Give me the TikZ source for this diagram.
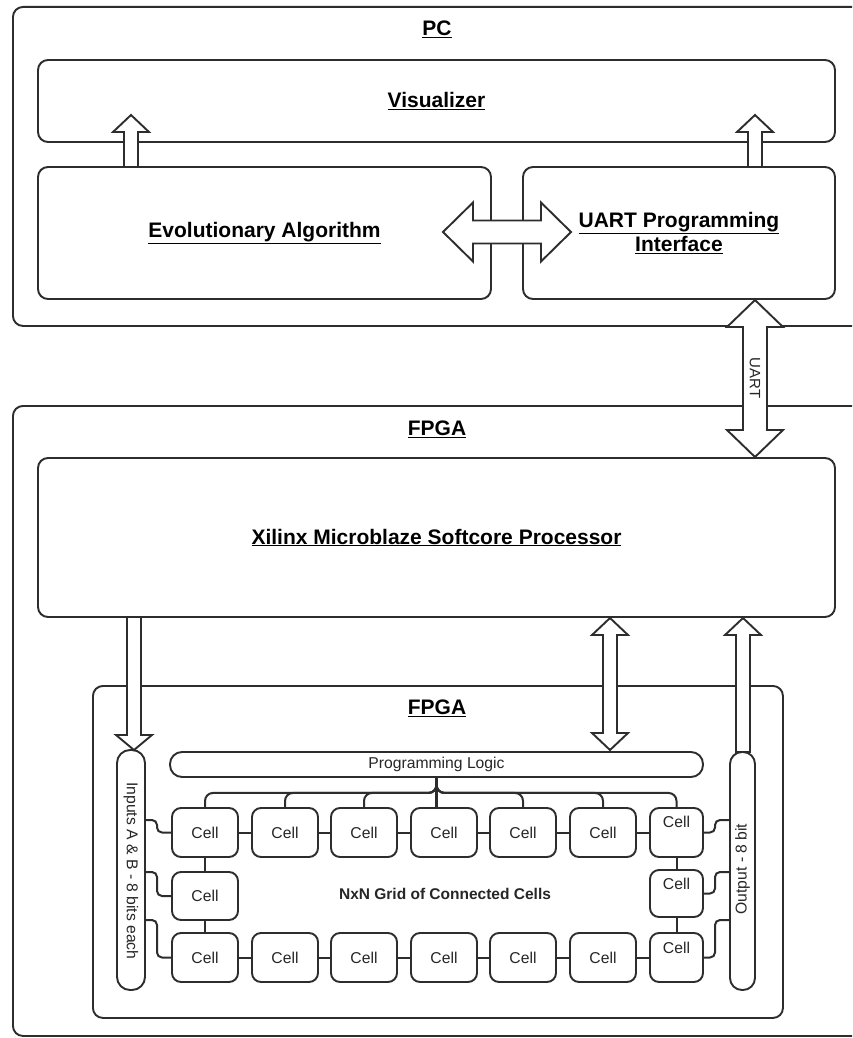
\documentclass[tikz,border=0pt]{standalone}
\usepackage{fontspec}
\setmainfont{Liberation Sans}
\definecolor{lc}{RGB}{45,45,45}
\newcommand\blkup[6]{\draw[blk] (#1-#4,#3) -- (#1-#4,#2+#6) -- (#1-#5,#2+#6) -- (#1,#2) -- (#1+#5,#2+#6) -- (#1+#4,#2+#6) -- (#1+#4,#3) -- cycle;}
\newcommand\blkdown[6]{\draw[blk] (#1-#4,#3) -- (#1-#4,#2-#6) -- (#1-#5,#2-#6) -- (#1,#2) -- (#1+#5,#2-#6) -- (#1+#4,#2-#6) -- (#1+#4,#3) -- cycle;}
\newcommand\blkvv[6]{\draw[blk] (#1,#2) -- (#1+#5,#2+#6) -- (#1+#4,#2+#6) -- (#1+#4,#3-#6) -- (#1+#5,#3-#6) -- (#1,#3) -- (#1-#5,#3-#6) -- (#1-#4,#3-#6) -- (#1-#4,#2+#6) -- (#1-#5,#2+#6) -- cycle;}
\newcommand\blkhh[6]{\draw[blk] (#1,#3) -- (#1+#6,#3-#5) -- (#1+#6,#3-#4) -- (#2-#6,#3-#4) -- (#2-#6,#3-#5) -- (#2,#3) -- (#2-#6,#3+#5) -- (#2-#6,#3+#4) -- (#1+#6,#3+#4) -- (#1+#6,#3+#5) -- cycle;}
\begin{document}
\begin{tikzpicture}[x=1pt,y=-1pt,
  box/.style={draw=lc, line width=1.9pt, rounded corners=10pt, fill=white, inner sep=0pt, text=black,
     font=\fontsize{21}{25}\selectfont\bfseries, align=center},
  big/.style={inner sep=0pt, text=black, font=\fontsize{21}{25}\selectfont\bfseries},
  small/.style={inner sep=0pt, text=black!85, font=\fontsize{15.7}{18}\selectfont},
  pill/.style={draw=lc, line width=1.9pt, fill=white, inner sep=0pt, text=black!85, font=\fontsize{15.7}{18}\selectfont},
  cell/.style={draw=lc, line width=1.9pt, rounded corners=9pt, fill=white, inner sep=0pt,
     minimum width=66pt, minimum height=49pt, text=black!85, font=\fontsize{15.7}{18}\selectfont},
  cellr/.style={cell, minimum width=53pt},
  blk/.style={draw=lc, fill=white, line width=1.9pt, line join=miter},
  wire/.style={draw=lc, line width=2pt, rounded corners=6pt}
]
\useasboundingbox (0,0) rectangle (852,1038);
\clip (0,0) rectangle (852,1038);

% ---------- PC ----------
\node[box, anchor=north west, minimum width=860pt, minimum height=319pt] (pc) at (12,6) {};
\node[big] (pclbl) at (437,29) {\underline{PC}};
\node[box, minimum width=797pt, minimum height=82pt] (vis) at (436.5,101) {\underline{Visualizer}};
\node[box, minimum width=453pt, minimum height=132pt] (ea) at (264.5,233) {\underline{Evolutionary Algorithm}};
\node[box, minimum width=312pt, minimum height=132pt] (uart) at (679,233) {\underline{UART Programming}\\[-1pt]\underline{Interface}};

% ---------- FPGA ----------
\node[box, anchor=north west, minimum width=860pt, minimum height=630pt] (fpga) at (12,405) {};
\node[big] (fpgalbl) at (437,429) {\underline{FPGA}};
\node[box, minimum width=797pt, minimum height=159pt] (mb) at (436.5,537.5) {\underline{Xilinx Microblaze Softcore Processor}};

% inner FPGA
\node[box, anchor=north west, minimum width=690pt, minimum height=332pt] (ifpga) at (92,685) {};
\node[big] (ifpgalbl) at (437,708) {\underline{FPGA}};

\node[pill, rounded corners=12pt, minimum width=533pt, minimum height=25pt] (pl) at (436.5,764.5) {Programming Logic};
\node[pill, rounded corners=13pt, minimum width=28pt, minimum height=240pt] (inp) at (131,870) {};
\node[small, rotate=-90] (inptxt) at (131,871) {Inputs A \& B - 8 bits each};
\node[pill, rounded corners=12pt, minimum width=25pt, minimum height=238pt] (outp) at (742.5,871) {};
\node[small, rotate=90] (outtxt) at (742.5,869) {Output - 8 bit};

% cells
\foreach \n/\x in {1/205,2/285,3/364,4/444,5/523,6/603}{
  \node[cell] (a\n) at (\x,832.5) {Cell};
  \node[cell] (c\n) at (\x,957.5) {Cell};
}
\node[cell, minimum height=48pt] (b1) at (205,896) {Cell};
\node[cellr] (a7) at (676.5,832.5) {};
\node[cellr, minimum height=47pt] (b7) at (676.5,893.5) {};
\node[cellr] (c7) at (676.5,957.5) {};
\node[small] (a7t) at (676.5,822) {Cell};
\node[small] (b7t) at (676.5,884) {Cell};
\node[small] (c7t) at (676.5,947.5) {Cell};

\node[inner sep=0pt, text=black!85, font=\fontsize{15.5}{18}\selectfont\bfseries] (grid) at (445,894) {NxN Grid of Connected Cells};

% cell links
\foreach \i/\j in {1/2,2/3,3/4,4/5,5/6,6/7}{
  \draw[wire] (a\i.east) -- (a\j.west);
  \draw[wire] (c\i.east) -- (c\j.west);
}
\draw[wire] (a1.south) -- (b1.north);
\draw[wire] (b1.south) -- (c1.north);
\draw[wire] (a7.south) -- (b7.north);
\draw[wire] (b7.south) -- (c7.north);

% programming bus
\foreach \c in {a1,a2,a3,a5,a6,a7}
  \draw[wire, rounded corners=8pt] (pl.south) -- ++(0,15) -| (\c.north);
\draw[wire, line width=2.6pt] (pl.south) -- (pl.south |- a4.north);

% inputs
\coordinate (i1) at (145,820);
\coordinate (i2) at (145,872);
\coordinate (i3) at (145,920);
\draw[wire, rounded corners=5pt] (i1) -- (157,820) |- (a1.west);
\draw[wire, rounded corners=5pt] (i2) -- (157,872) |- (b1.west);
\draw[wire, rounded corners=5pt] (i3) -- (157,920) |- (c1.west);
% outputs
\coordinate (o1) at (730,820);
\coordinate (o2) at (730,872);
\coordinate (o3) at (730,920);
\draw[wire, rounded corners=5pt] (a7.east) -- (715,832.5) |- (o1);
\draw[wire, rounded corners=5pt] (b7.east) -- (715,893.5) |- (o2);
\draw[wire, rounded corners=5pt] (c7.east) -- (715,957.5) |- (o3);

% block arrows
\blkup{131}{115}{167}{7}{18}{17}
\blkup{755}{115}{167}{7}{18}{17}
\blkhh{443}{571}{232}{11.5}{29.5}{30}
\blkvv{755}{300}{457}{12}{28}{27}
\node[small, rotate=-90, font=\fontsize{15}{18}\selectfont] (uartlbl) at (755,378) {UART};
\blkdown{134}{750}{617}{7}{18}{15}
\blkvv{610}{618}{750}{7}{18}{17}
\blkup{743}{618}{752}{7}{18}{17}
\end{tikzpicture}
\end{document}
